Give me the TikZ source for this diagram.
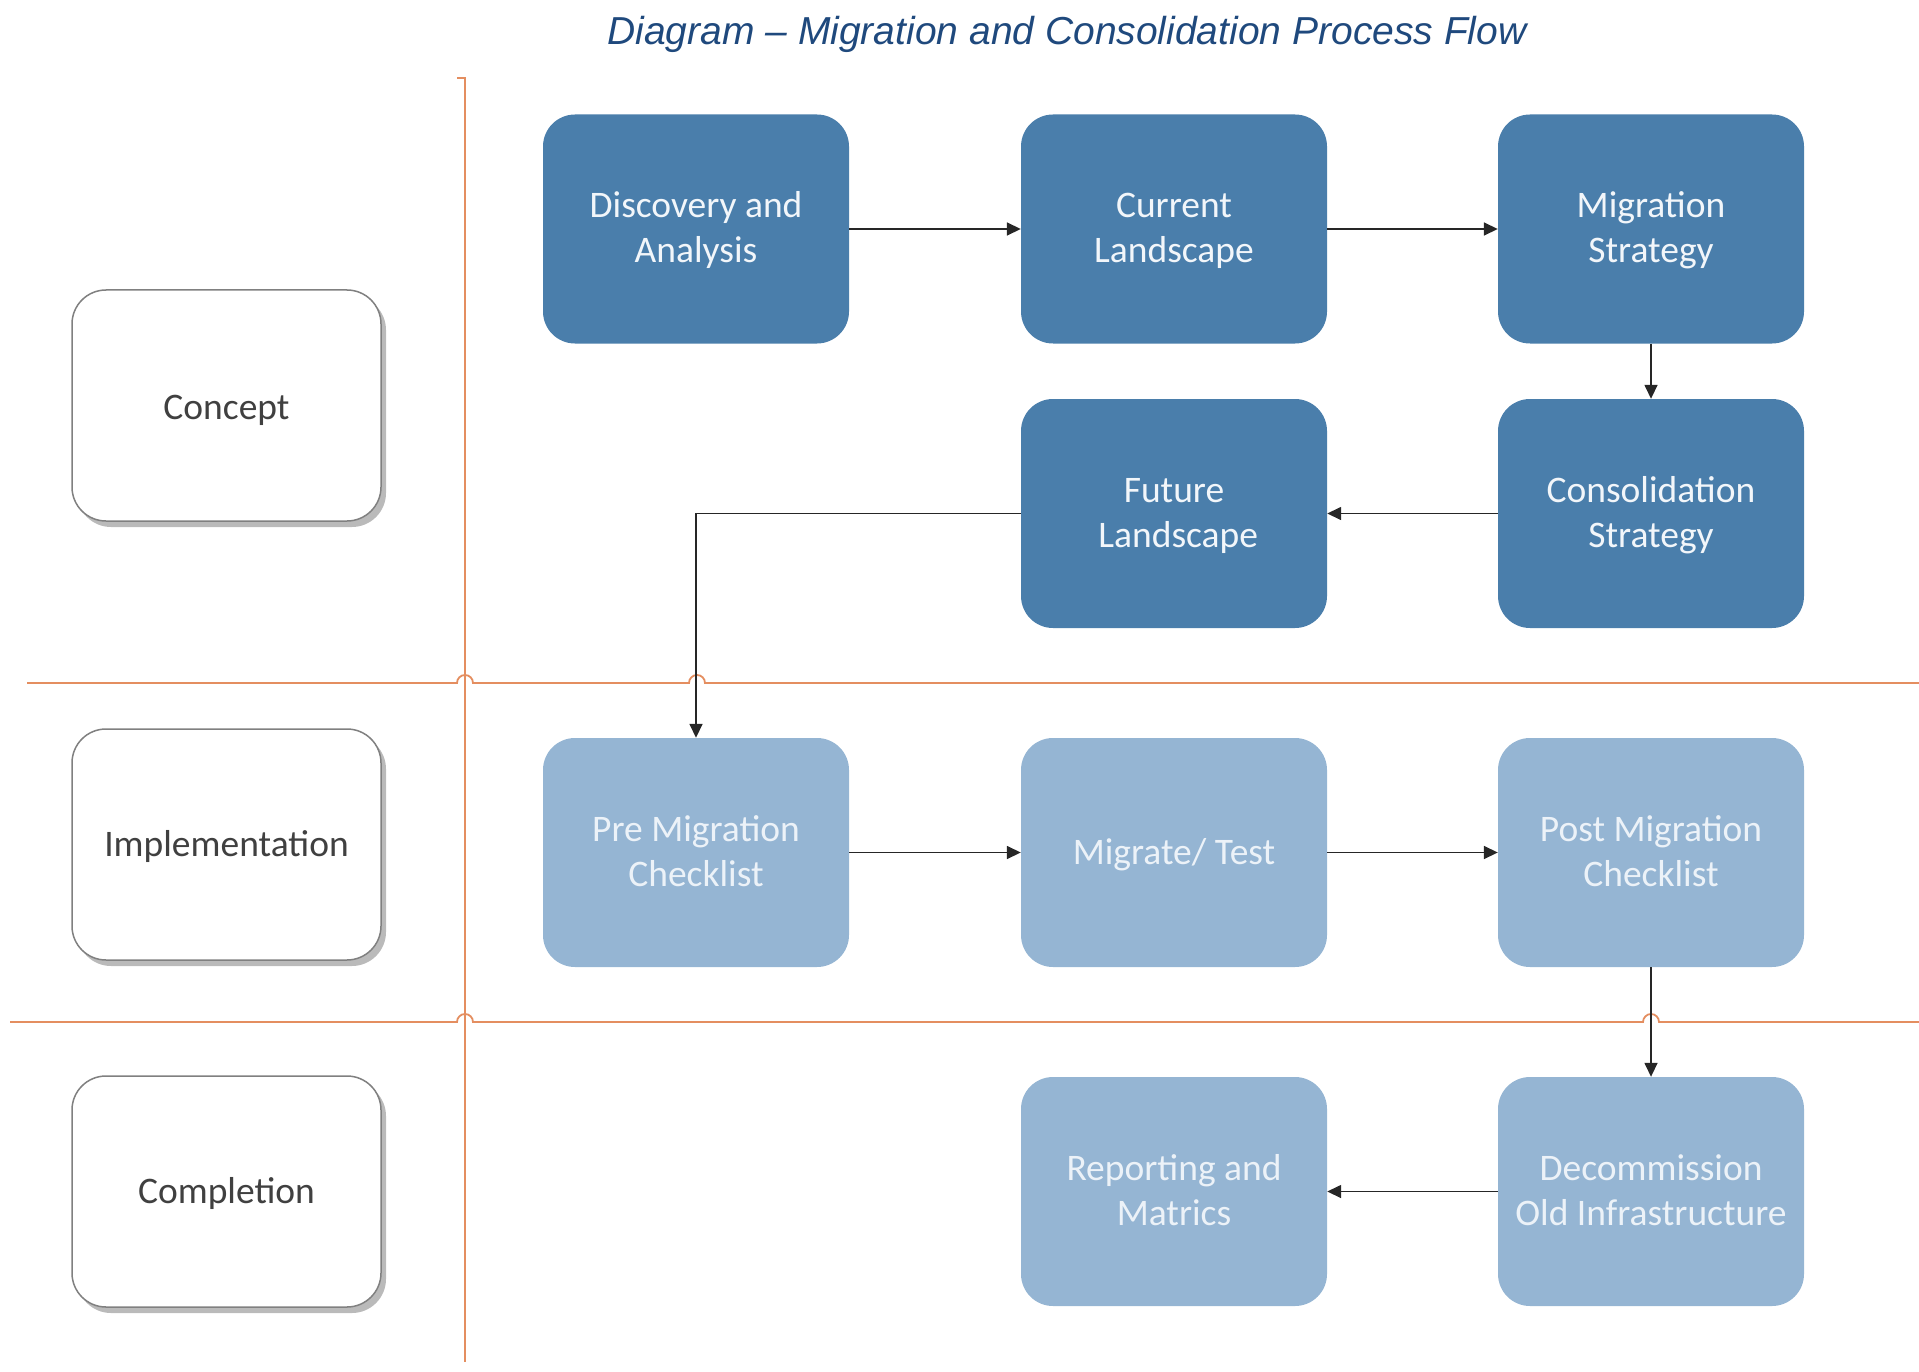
\documentclass[tikz,border=0pt]{standalone}
\usepackage{fontspec}
\setmainfont{Carlito}
\newfontfamily\titlefont{Liberation Sans}
\usetikzlibrary{arrows.meta,shadows}
\definecolor{darkbox}{RGB}{74,126,171}
\definecolor{lightbox}{RGB}{149,181,211}
\definecolor{lanecol}{RGB}{228,142,96}
\definecolor{titlecol}{RGB}{31,73,125}
\definecolor{boxtext}{RGB}{242,246,250}
\definecolor{lighttext}{RGB}{236,242,248}
\definecolor{phasetext}{RGB}{64,64,64}
\newcommand{\lowtext}[2]{\raisebox{-#1}[\height][\depth]{\begin{tabular}{@{}c@{}}#2\end{tabular}}}
\begin{document}
\begin{tikzpicture}[x=1pt,y=-1pt,
  proc/.style={rounded corners=32pt, minimum width=306pt, minimum height=229pt,
    inner sep=0pt, align=center, font=\fontsize{37.5}{45}\selectfont},
  darkproc/.style={proc, fill=darkbox, text=boxtext},
  lightproc/.style={proc, fill=lightbox, text=lighttext},
  phase/.style={rounded corners=34pt, minimum width=309pt, minimum height=231pt,
    inner sep=0pt, align=center, draw=black!50, line width=1.5pt, fill=white,
    text=phasetext, font=\fontsize{37.5}{45}\selectfont,
    drop shadow={shadow xshift=5pt, shadow yshift=-6pt, opacity=0.45, fill=black!60}},
  lane/.style={draw=lanecol, line width=1.8pt},
  flow/.style={draw=black!85, line width=1.6pt, -{Triangle[length=14pt,width=13pt]}}
]
\useasboundingbox (0,0) rectangle (1919,1372);

% title
\node[anchor=base, text=titlecol, font=\titlefont\itshape\fontsize{39}{46}\selectfont] (title) at (1067,45) {Diagram – Migration and Consolidation Process Flow};

% lanes
\draw[lane] (457,78) -- (465,78) -- (465,1362);
\draw[lane] (27,683) -- (457,683) arc[start angle=180,end angle=0,radius=8pt]
  -- (689,683) arc[start angle=180,end angle=0,radius=8pt] -- (1919,683);
\draw[lane] (10,1022) -- (457,1022) arc[start angle=180,end angle=0,radius=8pt]
  -- (1643,1022) arc[start angle=180,end angle=0,radius=8pt] -- (1919,1022);

% phase boxes
\node[phase] (concept) at (226.5,405.5) {\lowtext{5pt}{Concept}};
\node[phase] (impl) at (226.5,844.5) {\lowtext{2.5pt}{Implementation}};
\node[phase] (compl) at (226.5,1191.5) {\lowtext{2.5pt}{Completion}};

% process boxes
\node[darkproc] (disc) at (696,229) {\lowtext{2.5pt}{Discovery and\\Analysis}};
\node[darkproc] (curr) at (1174,229) {\lowtext{2.5pt}{Current\\Landscape}};
\node[darkproc] (mstrat) at (1651,229) {\lowtext{2.5pt}{Migration\\Strategy}};
\node[darkproc] (fut) at (1174,513.5) {\lowtext{2.5pt}{Future\\\ Landscape}};
\node[darkproc] (cstrat) at (1651,513.5) {\lowtext{2.5pt}{Consolidation\\Strategy}};
\node[lightproc] (pre) at (696,852.5) {\lowtext{2.5pt}{Pre Migration\\Checklist}};
\node[lightproc] (mig) at (1174,852.5) {\lowtext{2.5pt}{Migrate/ Test}};
\node[lightproc] (post) at (1651,852.5) {\lowtext{2.5pt}{Post Migration\\Checklist}};
\node[lightproc] (rep) at (1174,1191.5) {\lowtext{2.5pt}{Reporting and\\Matrics}};
\node[lightproc] (dec) at (1651,1191.5) {\lowtext{2.5pt}{Decommission\\Old Infrastructure}};

% connectors
\draw[flow] (disc) -- (curr);
\draw[flow] (curr) -- (mstrat);
\draw[flow] (mstrat) -- (cstrat);
\draw[flow] (cstrat) -- (fut);
\draw[flow] (fut.west) -| (pre.north);
\draw[flow] (pre) -- (mig);
\draw[flow] (mig) -- (post);
\draw[flow] (post) -- (dec);
\draw[flow] (dec) -- (rep);
\end{tikzpicture}
\end{document}
